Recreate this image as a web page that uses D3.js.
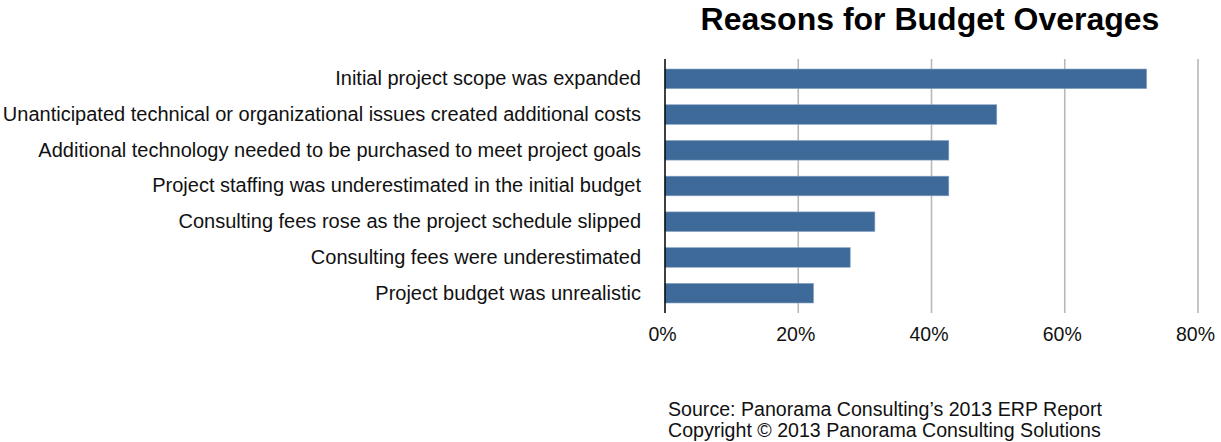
<!DOCTYPE html>
<html><head><meta charset="utf-8">
<script src="https://cdn.jsdelivr.net/npm/d3@7"></script>
<style>body{margin:0;background:#fff;} text{font-family:"Liberation Sans",Arial,sans-serif;}</style>
</head><body>
<svg id="c" width="1221" height="442"></svg>
<script>
const categories = [
  "Initial project scope was expanded",
  "Unanticipated technical or organizational issues created additional costs",
  "Additional technology needed to be purchased to meet project goals",
  "Project staffing was underestimated in the initial budget",
  "Consulting fees rose as the project schedule slipped",
  "Consulting fees were underestimated",
  "Project budget was unrealistic"
];
const values = [72.3, 49.8, 42.6, 42.6, 31.5, 27.8, 22.3];
const tickValues = [0, 20, 40, 60, 80];
const tickLabels = ["0%", "20%", "40%", "60%", "80%"];
const title = "Reasons for Budget Overages";
const footer = ["Source: Panorama Consulting\u2019s 2013 ERP Report", "Copyright \u00a9 2013 Panorama Consulting Solutions"];

const svg = d3.select("#c");
const pLeft = 665, pRight = 1198, pTop = 59, pBottom = 313;
const x = d3.scaleLinear().domain([0, 80]).range([pLeft, pRight]);
const y = d3.scaleBand().domain(categories).range([pTop, pBottom]).paddingInner(0.45).paddingOuter(0.28);

// gridlines
svg.append("g").selectAll("line").data(tickValues.slice(1)).join("line")
  .attr("x1", d => x(d)).attr("x2", d => x(d)).attr("y1", pTop).attr("y2", pBottom)
  .attr("stroke", "#b8b8b8").attr("stroke-width", 1.6);

// bars
svg.append("g").selectAll("rect").data(values).join("rect")
  .attr("x", x(0)).attr("y", (d, i) => y(categories[i]))
  .attr("width", d => x(d) - x(0)).attr("height", y.bandwidth())
  .attr("fill", "#3e6a9a").attr("stroke", "#8aa6c6").attr("stroke-width", 0.6);

// axis line
svg.append("line").attr("x1", x(0)).attr("x2", x(0)).attr("y1", pTop).attr("y2", pBottom)
  .attr("stroke", "#000").attr("stroke-width", 1.5);

// category labels
const yAxis = d3.axisLeft(y).tickSize(0).tickPadding(24);
const ya = svg.append("g").attr("transform", `translate(${x(0)},0)`).call(yAxis);
ya.select(".domain").remove();
ya.selectAll("text").attr("font-size", 20).attr("fill", "#111").style("font-family", "Liberation Sans, Arial, sans-serif");

// x tick labels
const xAxis = d3.axisBottom(x).tickValues(tickValues).tickSize(0).tickPadding(14)
  .tickFormat((d, i) => tickLabels[i]);
const xa = svg.append("g").attr("transform", `translate(0,${pBottom})`).call(xAxis);
xa.select(".domain").remove();
xa.selectAll("text").attr("font-size", 19.5).attr("fill", "#111").attr("dx", -3).style("font-family", "Liberation Sans, Arial, sans-serif");

// title
svg.append("text").attr("x", 930).attr("y", 30).attr("text-anchor", "middle")
  .attr("font-size", 32).attr("font-weight", "bold").attr("fill", "#000").text(title);

// footer
svg.append("g").selectAll("text").data(footer).join("text")
  .attr("x", 668).attr("y", (d, i) => 416 + i * 21)
  .attr("font-size", 19.6).attr("fill", "#111").text(d => d);
</script>
</body></html>
